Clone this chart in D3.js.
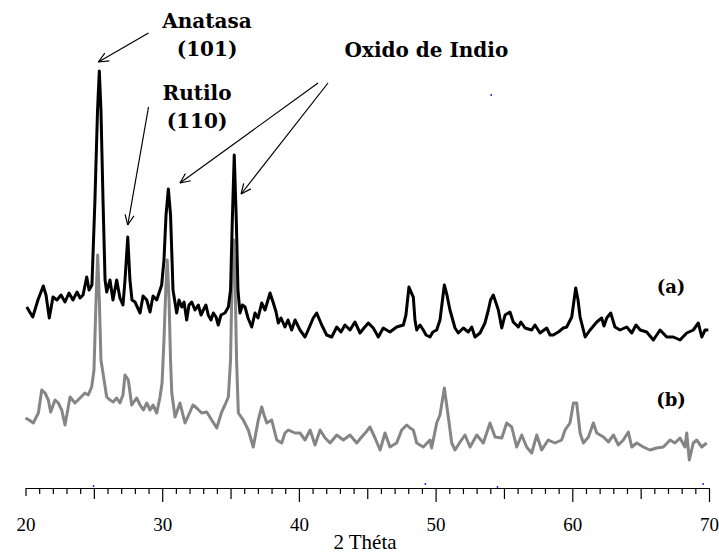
<!DOCTYPE html>
<html><head><meta charset="utf-8">
<script src="https://cdn.jsdelivr.net/npm/d3@7"></script>
<style>html,body{margin:0;padding:0;background:#fff;}svg{display:block;}</style>
</head><body>
<svg id="c" width="719" height="555"></svg>
<script>
// ---- data (2θ in degrees, intensity in arbitrary units, stacked offsets included) ----
const thetaA = [20.09,20.53,20.91,21.30,21.50,21.74,22.01,22.30,22.60,22.89,23.18,23.47,23.77,23.99,24.21,24.48,24.65,
24.86,25.08,25.27,25.40,25.52,25.67,25.82,25.94,26.18,26.40,26.67,26.91,27.13,27.28,27.48,27.64,27.79,28.01,28.38,28.60,28.87,29.11,29.33,29.60,29.84,29.96,
30.13,30.28,30.45,30.61,30.72,30.79,31.06,31.23,31.43,31.60,31.79,31.96,32.16,32.40,32.64,32.84,33.01,33.20,33.37,33.57,33.74,33.94,34.10,34.30,34.59,34.84,
35.00,35.13,35.27,35.42,35.54,35.69,35.87,36.06,36.28,36.55,36.79,37.01,37.28,37.52,37.89,38.13,38.33,38.49,38.69,38.98,39.20,39.47,39.72,
40.08,40.45,40.74,41.05,41.30,41.67,42.03,42.40,42.77,43.08,43.37,43.74,44.10,44.47,44.76,45.08,45.44,45.81,46.17,46.66,47.15,47.64,
47.83,48.05,48.20,48.37,48.49,48.62,48.86,49.10,49.30,49.59,49.80,50.08,50.32,50.64,50.83,51.05,51.42,51.66,52.03,52.39,52.64,52.88,53.25,53.61,53.86,54.02,54.22,54.42,54.59,54.84,55.08,55.44,55.68,56.05,56.24,56.54,57.03,57.27,57.64,58.13,58.37,58.61,58.98,59.34,59.59,59.96,
60.25,60.42,60.57,60.94,61.30,61.79,62.15,62.32,62.52,62.81,63.12,63.49,63.98,64.35,64.66,64.97,65.44,65.93,66.42,66.91,67.39,67.88,68.37,68.85,69.22,69.47,69.71,69.95];
const intensA = [163,153,170,184,175,152,173,170,175,168,177,170,178,172,175,193,180,
185,270,360,399,360,270,190,178,190,170,190,172,165,190,233,190,170,168,157,174,170,158,174,170,180,185,
210,255,281,255,210,180,157,170,163,168,150,165,168,160,165,155,160,165,155,150,157,153,145,155,157,163,
180,250,315,250,180,157,165,163,152,143,157,152,167,160,177,167,158,147,152,143,150,140,150,
140,133,142,152,157,145,135,133,143,138,145,140,148,137,142,147,142,133,142,138,143,145,
155,183,178,173,150,140,145,140,135,133,138,140,150,185,175,160,142,137,142,138,143,133,137,147,160,170,175,167,160,142,155,158,148,143,148,142,140,145,137,142,135,135,138,142,143,153,
182,170,153,133,140,148,152,144,152,157,143,140,143,137,145,140,138,130,140,133,133,130,137,140,147,133,140,140];

const thetaB = [20.00,20.26,20.57,20.94,21.19,21.43,21.67,21.84,22.16,22.40,22.65,22.89,23.26,23.62,23.99,24.35,24.59,24.84,
25.01,25.16,25.28,25.40,25.52,25.69,25.94,26.18,26.42,26.67,26.91,27.13,27.28,27.52,27.77,28.13,28.38,28.62,28.87,29.11,29.33,29.60,29.84,29.99,
30.13,30.26,30.37,30.50,30.61,30.70,30.94,31.30,31.67,32.03,32.25,32.52,32.89,33.26,33.62,33.99,34.35,34.59,34.84,
35.00,35.11,35.22,35.33,35.44,35.57,35.93,36.30,36.66,37.03,37.28,37.45,37.65,38.01,38.38,38.74,38.98,39.22,39.71,
40.08,40.45,40.82,41.18,41.55,41.92,42.28,42.77,43.25,43.74,44.23,44.59,44.91,45.20,45.57,45.94,46.30,46.66,47.15,47.52,47.89,48.13,48.37,48.62,49.10,49.59,49.71,
50.08,50.32,50.64,50.93,51.18,51.42,51.79,52.15,52.52,53.01,53.49,53.98,54.35,54.84,55.20,55.57,55.93,56.30,56.66,57.03,57.40,57.76,58.24,58.73,59.22,59.47,59.83,
60.08,60.32,60.57,60.81,61.18,61.54,61.79,62.28,62.64,63.01,63.37,63.73,64.10,64.35,64.71,65.20,65.68,66.17,66.66,67.15,67.51,67.88,68.24,68.37,68.56,68.85,69.10,69.47,69.83];
const intensB = [52,50,47,57,80,77,70,58,70,67,60,45,73,67,72,77,75,83,
100,170,215,170,110,95,73,70,68,72,67,75,95,90,65,72,65,60,67,60,65,57,73,87,
130,180,210,170,110,77,53,67,47,58,65,62,57,58,50,42,58,65,73,
110,190,230,190,110,57,50,40,23,50,63,55,47,50,30,27,37,40,37,
37,30,40,25,40,32,27,35,30,35,27,33,38,43,32,20,37,23,27,40,45,42,40,27,23,30,22,
47,55,82,53,27,20,28,35,23,35,27,47,33,32,47,43,23,35,23,17,35,20,30,27,30,40,47,
67,67,37,27,33,47,37,33,28,35,25,30,38,23,27,23,20,22,23,30,27,32,23,37,10,27,30,23,27];

const xTicks = [20,30,40,50,60,70];
const xTitle = "2 Théta";
const seriesLabels = ["(a)", "(b)"];
const labelAnchors = [[67.22,177],[67.22,64]];          // [2θ, intensity] of series labels
const annotations = [
  {lines:["Anatasa","(101)"], at:[33.28,442], from:[29.0,437], to:[25.33,408]},
  {lines:["Rutilo","(110)"],  at:[32.55,370], from:[29.0,363], to:[27.48,245]}
];
const indio = {text:"Oxido de Indio", at:[49.33,413], from:[[41.4,387],[42.13,387]], to:[[31.3,287],[35.77,276]]};
const specks = [[24.96,-16],[49.23,-14],[54.51,-17],[69.55,-14],[54.05,375]]; // stray blue dots

// ---- scales ----
const svg = d3.select("#c");
const x = d3.scaleLinear().domain([20,70]).range([25.5,709]);
const y = d3.scaleLinear().domain([0,400]).range([470,70]);
const axisY = 488;

const line = d3.line().x(d=>x(d[0])).y(d=>y(d[1])).curve(d3.curveLinear);
const dataA = thetaA.map((t,i)=>[t,intensA[i]]);
const dataB = thetaB.map((t,i)=>[t,intensB[i]]);

svg.append("path").datum(dataB).attr("d",line).attr("fill","none")
  .attr("stroke","#858585").attr("stroke-width",3).attr("stroke-linejoin","round");
svg.append("path").datum(dataA).attr("d",line).attr("fill","none")
  .attr("stroke","#000").attr("stroke-width",3).attr("stroke-linejoin","round");

// ---- axis ----
const allTicks = d3.range(20,71,1);
const ax = d3.axisBottom(x).tickValues(allTicks).tickFormat(d=> xTicks.includes(d)? d : "")
  .tickSizeOuter(0).tickPadding(26);
const g = svg.append("g").attr("transform",`translate(0,${axisY})`).call(ax);
g.select(".domain").attr("stroke","#000").attr("stroke-width",1.2);
g.selectAll(".tick line").attr("stroke","#000").attr("stroke-width",1.2)
  .attr("y2", d=> d===20 ? 8 : (d%10===0 ? 14 : (d%5===0 ? 11 : 6)));
g.selectAll(".tick text").attr("font-family","'Liberation Serif', serif").attr("font-size",19)
  .attr("fill","#000").attr("dy",0).attr("y",43);
svg.append("text").attr("x",365).attr("y",549).attr("text-anchor","middle")
  .attr("font-family","'Liberation Serif', serif").attr("font-size",21).text(xTitle);

// ---- labels ----
const bold = "'DejaVu Serif', serif";
seriesLabels.forEach((s,i)=>{
  svg.append("text").attr("x",x(labelAnchors[i][0])).attr("y",y(labelAnchors[i][1]))
    .attr("text-anchor","middle").attr("font-family",bold).attr("font-weight","bold")
    .attr("font-size",18).text(s);
});

function arrow(fx,fy,tx,ty){
  svg.append("line").attr("x1",fx).attr("y1",fy).attr("x2",tx).attr("y2",ty)
    .attr("stroke","#000").attr("stroke-width",1.2);
  const a = Math.atan2(fy-ty, fx-tx), L=11, w=0.42;
  [a+w,a-w].forEach(b=>{
    svg.append("line").attr("x1",tx).attr("y1",ty)
      .attr("x2",tx+L*Math.cos(b)).attr("y2",ty+L*Math.sin(b))
      .attr("stroke","#000").attr("stroke-width",1.2);
  });
}
annotations.forEach(an=>{
  an.lines.forEach((ln,k)=>{
    svg.append("text").attr("x",x(an.at[0])).attr("y",y(an.at[1])+k*28)
      .attr("text-anchor","middle").attr("font-family",bold).attr("font-weight","bold")
      .attr("font-size",20).text(ln);
  });
  arrow(x(an.from[0]),y(an.from[1]),x(an.to[0]),y(an.to[1]));
});
svg.append("text").attr("x",x(indio.at[0])).attr("y",y(indio.at[1]))
  .attr("text-anchor","middle").attr("font-family",bold).attr("font-weight","bold")
  .attr("font-size",20).text(indio.text);
indio.from.forEach((f,i)=>arrow(x(f[0]),y(f[1]),x(indio.to[i][0]),y(indio.to[i][1])));

// stray specks
svg.selectAll(".speck").data(specks).join("rect").attr("class","speck")
  .attr("x",d=>x(d[0])-0.5).attr("y",d=>y(d[1])-1).attr("width",1.5).attr("height",2).attr("fill","#2233dd");
</script>
</body></html>
